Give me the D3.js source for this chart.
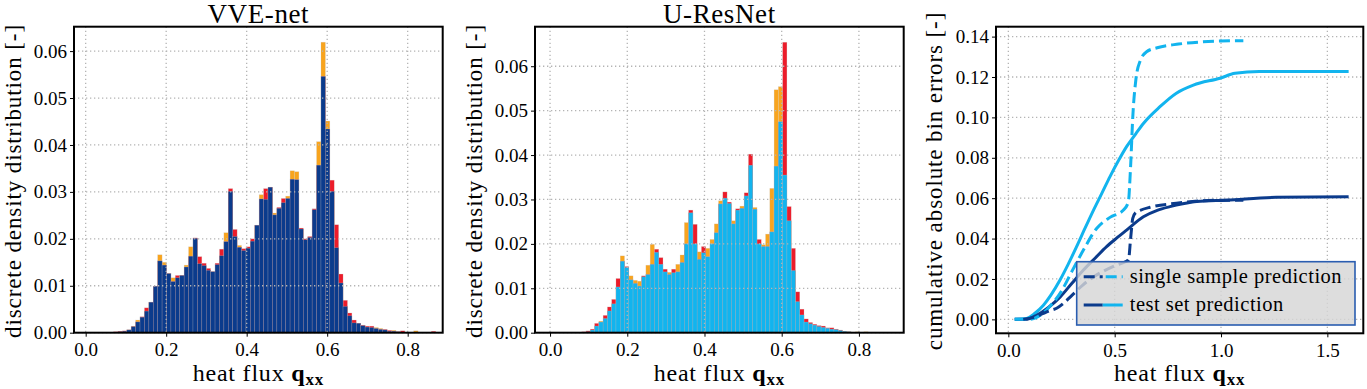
<!DOCTYPE html>
<html>
<head>
<meta charset="utf-8">
<script src="https://cdn.jsdelivr.net/npm/d3@7"></script>
<style>
  body { margin: 0; background: #fff; }
  svg text { font-family: "Liberation Serif", serif; fill: #000; }
</style>
</head>
<body>
<main></main>
<script>
// histogram bins (left edge of first bin, bin width)
const vveBinStart = -0.0075;
const vveBinWidth = 0.010965;
const vveOrange = [0, 0, 0, 0, 0, 0, 0, 0.0001, 0.0002, 0.0003,
    0.0006, 0.0014, 0.0027, 0.0033, 0.0046, 0.0065, 0.0099, 0.0166, 0.015, 0.0126,
    0.0117, 0.0117, 0.0122, 0.0144, 0.0183, 0.0201, 0.0147, 0.0143, 0.0133, 0.013,
    0.0145, 0.0164, 0.0213, 0.0301, 0.0205, 0.0186, 0.0175, 0.018, 0.0195, 0.0229,
    0.0294, 0.0284, 0.031, 0.0255, 0.0265, 0.0277, 0.0291, 0.0345, 0.0343, 0.0221,
    0.0198, 0.0203, 0.0262, 0.0407, 0.0619, 0.0451, 0.0301, 0.0181, 0.0106, 0.0056,
    0.0036, 0.0021, 0.002, 0.0015, 0.0012, 0.0011, 0.0011, 0.0009, 0.0006, 0.0003,
    0.0005, 0.0002, 0.0001, 0.0001, 0.0001, 0.0004, 0.0001, 0.0001, 0, 0];
const vveRed = [0, 0, 0, 0, 0, 0, 0, 0.0002, 0.0003, 0.0004,
    0.0006, 0.0013, 0.0023, 0.0034, 0.0053, 0.0065, 0.0099, 0.0153, 0.0144, 0.0126,
    0.0109, 0.0122, 0.0122, 0.014, 0.0163, 0.0202, 0.0162, 0.0148, 0.0137, 0.013,
    0.0148, 0.0178, 0.0194, 0.0307, 0.022, 0.0182, 0.0179, 0.0183, 0.02, 0.0229,
    0.0285, 0.0307, 0.031, 0.0251, 0.0267, 0.0286, 0.0286, 0.0327, 0.0326, 0.0223,
    0.02, 0.0205, 0.0264, 0.0357, 0.0546, 0.0434, 0.0325, 0.023, 0.0125, 0.0069,
    0.0042, 0.0027, 0.002, 0.0016, 0.0014, 0.0014, 0.0009, 0.0007, 0.0007, 0.0005,
    0.0003, 0.0002, 0.0004, 0.0001, 0.0001, 0.0001, 0.0001, 0, 0.0001, 0.0003];

const uresBinStart = -0.0064;
const uresBinWidth = 0.01107;
const uresOrange = [0, 0, 0, 0, 0, 0, 0, 0, 0, 0.0002,
    0.0006, 0.0015, 0.0026, 0.0032, 0.0049, 0.0065, 0.0103, 0.0173, 0.0147, 0.0128,
    0.0118, 0.0116, 0.0126, 0.0152, 0.0199, 0.0181, 0.0154, 0.0137, 0.0136, 0.0135,
    0.0154, 0.0175, 0.0248, 0.027, 0.02, 0.0182, 0.018, 0.019, 0.021, 0.0245,
    0.0297, 0.0303, 0.0291, 0.0252, 0.0276, 0.0285, 0.0308, 0.0377, 0.0282, 0.02,
    0.0198, 0.0222, 0.0325, 0.0547, 0.0554, 0.0355, 0.0252, 0.014, 0.007, 0.004,
    0.0024, 0.002, 0.0017, 0.0014, 0.0012, 0.001, 0.0008, 0.0007, 0.0005, 0.0003,
    0.0002, 0.0001, 0.0002, 0.0001, 0.0002, 0, 0, 0, 0, 0];
const uresRed = [0, 0, 0, 0, 0, 0, 0, 0, 0.0002, 0.0004,
    0.0008, 0.0021, 0.0024, 0.0039, 0.0058, 0.0075, 0.0122, 0.0161, 0.0149, 0.0119,
    0.0111, 0.0105, 0.0128, 0.0131, 0.0154, 0.0188, 0.0169, 0.0143, 0.0131, 0.0143,
    0.0137, 0.0158, 0.02, 0.0276, 0.0244, 0.0165, 0.0194, 0.0171, 0.02, 0.0225,
    0.029, 0.0317, 0.0294, 0.0245, 0.0279, 0.028, 0.0315, 0.0402, 0.0278, 0.021,
    0.0194, 0.0194, 0.0227, 0.0375, 0.0475, 0.0654, 0.0284, 0.019, 0.0092, 0.0053,
    0.0031, 0.0023, 0.0019, 0.0016, 0.0015, 0.0011, 0.0011, 0.0008, 0.0006, 0.0003,
    0.0002, 0.0001, 0.0001, 0, 0, 0, 0, 0, 0, 0];

// cumulative absolute bin errors: [heat flux, error]
const vveSingle = [[0.07, 0], [0.12, 0.001], [0.165, 0.003], [0.2, 0.0045], [0.227, 0.0055],
    [0.26, 0.008], [0.3, 0.012], [0.35, 0.017], [0.4, 0.021], [0.45, 0.024], [0.5, 0.0265],
    [0.55, 0.0285], [0.565, 0.0295], [0.575, 0.04], [0.585, 0.05], [0.6, 0.053], [0.62, 0.054],
    [0.666, 0.0555], [0.79, 0.0575], [0.9, 0.0586], [1.0, 0.059], [1.105, 0.059]];
const vveTest = [[0.03, 0], [0.08, 0], [0.133, 0.002], [0.19, 0.006], [0.243, 0.011],
    [0.3, 0.018], [0.353, 0.0244], [0.41, 0.0305], [0.462, 0.036], [0.51, 0.0403],
    [0.556, 0.0442], [0.635, 0.0508], [0.7, 0.054], [0.76, 0.0558], [0.82, 0.0572],
    [0.886, 0.0583], [1.027, 0.059], [1.26, 0.0604], [1.6, 0.0607]];
const uresSingle = [[0.03, 0], [0.1, 0], [0.15, 0.002], [0.2, 0.007], [0.25, 0.014],
    [0.3, 0.024], [0.353, 0.0343], [0.415, 0.045], [0.478, 0.0505], [0.54, 0.054],
    [0.564, 0.058], [0.575, 0.076], [0.585, 0.1], [0.6, 0.119], [0.62, 0.128],
    [0.65, 0.1325], [0.7, 0.1345], [0.8, 0.1363], [0.9, 0.1373], [1.0, 0.1378], [1.105, 0.138]];
const uresTest = [[0.03, 0], [0.086, 0.0005], [0.125, 0.003], [0.165, 0.007], [0.2, 0.012],
    [0.243, 0.0195], [0.28, 0.027], [0.321, 0.036], [0.36, 0.045], [0.4, 0.054],
    [0.44, 0.0625], [0.478, 0.0707], [0.52, 0.079], [0.556, 0.0855], [0.6, 0.092],
    [0.635, 0.097], [0.713, 0.1053], [0.79, 0.112], [0.87, 0.116], [0.995, 0.1194],
    [1.066, 0.1218], [1.18, 0.1227], [1.6, 0.1227]];

const legendLabels = ['single sample prediction', 'test set prediction'];

const histXTicks = [0.0, 0.2, 0.4, 0.6, 0.8];
const histYTicks = [0.00, 0.01, 0.02, 0.03, 0.04, 0.05, 0.06];
const cumXTicks = [0.0, 0.5, 1.0, 1.5];
const cumYTicks = [0.00, 0.02, 0.04, 0.06, 0.08, 0.10, 0.12, 0.14];

const navy = '#0b3b8c';
const sky = '#12b4ee';
const orange = '#f8a41e';
const red = '#ec1c2a';
const serif = '"Liberation Serif", serif';

const svg = d3.select('main')
    .append('svg')
    .attr('width', 1367)
    .attr('height', 389);

const gridStyle = (sel) => sel
    .attr('stroke', '#b4b4b4')
    .attr('stroke-width', 1.3)
    .attr('stroke-dasharray', '1.3,2.7');

const xLabel = (cx) => {
    const t = svg.append('text')
        .attr('x', cx)
        .attr('y', 381)
        .attr('text-anchor', 'middle')
        .style('font-family', serif)
        .style('font-size', '24px')
        .style('letter-spacing', '0.8px');
    t.append('tspan').text('heat flux ');
    t.append('tspan').style('font-weight', 'bold').text('q');
    t.append('tspan').style('font-weight', 'bold').style('font-size', '17px')
        .attr('dy', 4).text('xx');
};

const yLabel = (x, cy, text) => {
    svg.append('text')
        .attr('transform', `translate(${x},${cy}) rotate(-90)`)
        .attr('text-anchor', 'middle')
        .style('font-family', serif)
        .style('font-size', '23px')
        .style('letter-spacing', '0.9px')
        .text(text);
};

const styleTicks = (a) => a.selectAll('text')
    .style('font-family', serif)
    .style('font-size', '19px');

const drawAxes = (g, xScale, yScale, xTicks, yTicks, xFmt, yFmt) => {
    g.append('g')
        .attr('transform', `translate(0, ${yScale.range()[0]})`)
        .call(d3.axisBottom(xScale).tickValues(xTicks).tickFormat(d3.format(xFmt))
            .tickSizeInner(4).tickSizeOuter(0).tickPadding(6))
        .call((a) => a.select('.domain').remove())
        .call(styleTicks);
    g.append('g')
        .call(d3.axisLeft(yScale).tickValues(yTicks).tickFormat(d3.format(yFmt))
            .tickSizeInner(4).tickSizeOuter(0).tickPadding(3))
        .call((a) => a.select('.domain').remove())
        .call(styleTicks);
};

const drawGrid = (g, xScale, yScale, xTicks, yTicks, w, h) => {
    const grid = g.append('g');
    grid.selectAll('.gx').data(xTicks).enter().append('line')
        .attr('x1', (d) => xScale(d)).attr('x2', (d) => xScale(d))
        .attr('y1', 0).attr('y2', h)
        .call(gridStyle);
    grid.selectAll('.gy').data(yTicks).enter().append('line')
        .attr('x1', 0).attr('x2', w)
        .attr('y1', (d) => yScale(d)).attr('y2', (d) => yScale(d))
        .call(gridStyle);
};

const frame = (g, w, h) => {
    g.append('rect')
        .attr('width', w).attr('height', h)
        .attr('fill', 'none')
        .attr('stroke', '#000')
        .attr('stroke-width', 2);
};

const histPanel = (left, xDomain, yMax, binStart, binWidth, orangeVals, redVals, baseColor, title) => {
    const w = 368.7, h = 306;
    const g = svg.append('g').attr('transform', `translate(${left}, 26.7)`);
    const xScale = d3.scaleLinear().domain(xDomain).range([0, w]);
    const yScale = d3.scaleLinear().domain([0, yMax]).range([h, 0]);

    const bins = orangeVals.map((o, i) => ({
        x0: binStart + i * binWidth,
        x1: binStart + (i + 1) * binWidth,
        o: o,
        r: redVals[i],
        m: Math.min(o, redVals[i])
    }));

    const layer = (key, color) => {
        g.append('g').selectAll('rect')
            .data(bins.filter((d) => d[key] > 0))
            .enter()
            .append('rect')
            .attr('x', (d) => xScale(d.x0))
            .attr('width', (d) => xScale(d.x1) - xScale(d.x0))
            .attr('y', (d) => yScale(d[key]))
            .attr('height', (d) => h - yScale(d[key]))
            .attr('fill', color)
            .attr('stroke', 'rgba(200,200,200,0.45)')
            .attr('stroke-width', 0.5);
    };
    layer('o', orange);
    layer('r', red);
    layer('m', baseColor);

    drawGrid(g, xScale, yScale, histXTicks, histYTicks, w, h);
    drawAxes(g, xScale, yScale, histXTicks, histYTicks, '.1f', '.2f');
    frame(g, w, h);

    svg.append('text')
        .attr('x', left + w / 2)
        .attr('y', 23)
        .attr('text-anchor', 'middle')
        .style('font-family', serif)
        .style('font-size', '27px')
        .style('letter-spacing', '0.6px')
        .text(title);
    xLabel(left + w / 2);
};

histPanel(74, [-0.029, 0.887], 0.0652, vveBinStart, vveBinWidth, vveOrange, vveRed, navy, 'VVE-net');
yLabel(21, 181, 'discrete density distribution [-]');
histPanel(535, [-0.039, 0.916], 0.0689, uresBinStart, uresBinWidth, uresOrange, uresRed, sky, 'U-ResNet');
yLabel(482, 181, 'discrete density distribution [-]');

// cumulative error panel
(() => {
    const left = 996, w = 367.3, h = 306.6;
    const g = svg.append('g').attr('transform', `translate(${left}, 26.7)`);
    const xScale = d3.scaleLinear().domain([-0.058, 1.669]).range([0, w]);
    const yScale = d3.scaleLinear().domain([-0.0069, 0.1449]).range([h, 0]);

    drawGrid(g, xScale, yScale, cumXTicks, cumYTicks, w, h);

    const line = d3.line()
        .x((d) => xScale(d[0]))
        .y((d) => yScale(d[1]))
        .curve(d3.curveMonotoneX);

    const series = [
        { data: uresTest, color: sky, dash: null },
        { data: vveTest, color: navy, dash: null },
        { data: uresSingle, color: sky, dash: '11,5' },
        { data: vveSingle, color: navy, dash: '11,5' }
    ];
    series.forEach((s) => {
        g.append('path')
            .datum(s.data)
            .attr('d', line)
            .attr('fill', 'none')
            .attr('stroke', s.color)
            .attr('stroke-width', 3)
            .attr('stroke-dasharray', s.dash);
    });

    drawAxes(g, xScale, yScale, cumXTicks, cumYTicks, '.1f', '.2f');
    frame(g, w, h);

    // legend
    const lg = svg.append('g').attr('transform', 'translate(1076.7, 261.7)');
    lg.append('rect')
        .attr('width', 278.3).attr('height', 63.3)
        .attr('fill', '#d6d6d6').attr('fill-opacity', 0.82)
        .attr('stroke', '#2a5db0').attr('stroke-width', 1.6);
    legendLabels.forEach((label, i) => {
        const y = 15 + i * 28.3;
        const dash = i === 0 ? '11,5' : null;
        lg.append('line').attr('x1', 7).attr('x2', 26).attr('y1', y).attr('y2', y)
            .attr('stroke', navy).attr('stroke-width', 3).attr('stroke-dasharray', dash);
        lg.append('line').attr('x1', 26).attr('x2', 46).attr('y1', y).attr('y2', y)
            .attr('stroke', sky).attr('stroke-width', 3).attr('stroke-dasharray', dash)
            .attr('stroke-dashoffset', i === 0 ? -3 : null);
        lg.append('text').attr('x', 53).attr('y', y + 6)
            .style('font-family', serif)
            .style('font-size', '20.5px')
            .style('letter-spacing', '0.5px')
            .text(label);
    });

    yLabel(942, 181, 'cumulative absolute bin errors [-]');
    xLabel(left + w / 2);
})();
</script>
</body>
</html>
